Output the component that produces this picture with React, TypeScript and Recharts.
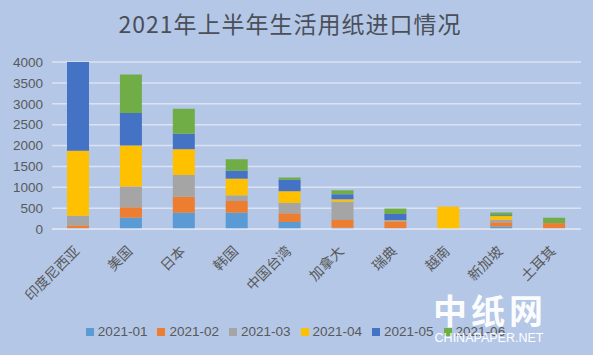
import React from 'react';
import { BarChart, Bar, XAxis, YAxis, CartesianGrid, Legend } from 'recharts';

const categories = ['印度尼西亚', '美国', '日本', '韩国', '中国台湾', '加拿大', '瑞典', '越南', '新加坡', '土耳其'];
const seriesNames = ['2021-01', '2021-02', '2021-03', '2021-04', '2021-05', '2021-06'];
const m01 = [15, 270, 390, 390, 170, 30, 20, 0, 60, 10];
const m02 = [70, 250, 385, 280, 206, 186, 160, 0, 100, 130];
const m03 = [235, 495, 520, 136, 248, 440, 20, 0, 60, 0];
const m04 = [1554, 985, 617, 400, 281, 56, 10, 536, 90, 0];
const m05 = [2126, 777, 368, 192, 272, 120, 150, 0, 20, 0];
const m06 = [0, 921, 600, 273, 56, 96, 130, 0, 65, 130];
const yTicks = [0, 500, 1000, 1500, 2000, 2500, 3000, 3500, 4000];

const colors = ['#5B9BD5', '#ED7D31', '#A5A5A5', '#FFC000', '#4472C4', '#70AD47'];
const seriesValues = [m01, m02, m03, m04, m05, m06];

const data = categories.map((name, i) => {
  const row: Record<string, any> = { name };
  seriesNames.forEach((s, k) => {
    row[s] = seriesValues[k][i];
  });
  return row;
});

const textColor = '#595959';
const cjkFont = '"Noto Sans CJK SC", "Liberation Sans", sans-serif';

const AngledTick = (props: any) => {
  const { x, y, payload } = props;
  return (
    <g transform={`translate(${x + 2},${y + 15})`}>
      <text
        textAnchor="end"
        transform="rotate(-45)"
        fill={textColor}
        fontSize={14}
        fontFamily={cjkFont}
      >
        {payload.value}
      </text>
    </g>
  );
};

export default function App() {
  return (
    <div
      style={{
        position: 'absolute',
        top: 0,
        left: 0,
        width: 593,
        height: 355,
        background: '#B4C7E7',
        fontFamily: '"Liberation Sans", "Noto Sans CJK SC", sans-serif',
        overflow: 'hidden',
      }}
    >
      <div
        style={{
          position: 'absolute',
          top: 8,
          left: 0,
          width: 580,
          textAlign: 'center',
          fontSize: 23,
          letterSpacing: 1,
          color: '#4a4f58',
          fontFamily: cjkFont,
          lineHeight: '30px',
        }}
      >
        2021年上半年生活用纸进口情况
      </div>
      <BarChart
        width={593}
        height={355}
        data={data}
        margin={{ top: 62, right: 12, left: 0, bottom: 0 }}
        barSize={22}
      >
        <CartesianGrid vertical={false} stroke="#dbe3f3" strokeWidth={1.5} />
        <XAxis
          dataKey="name"
          height={126}
          interval={0}
          tickLine={false}
          axisLine={{ stroke: '#dbe3f3', strokeWidth: 1.5 }}
          tick={<AngledTick />}
        />
        <YAxis
          width={52}
          domain={[0, 4000]}
          ticks={yTicks}
          interval={0}
          axisLine={false}
          tickLine={false}
          tickMargin={3}
          tick={{ fill: textColor, fontSize: 13.5 }}
        />
        <Legend
          verticalAlign="middle"
          align="center"
          iconType="square"
          iconSize={8}
          wrapperStyle={{ top: 324, left: 4, width: 593, fontSize: 13.5 }}
          formatter={(value: string) => <span style={{ color: textColor }}>{value}</span>}
        />
        {seriesNames.map((s, k) => (
          <Bar key={s} dataKey={s} stackId="a" fill={colors[k]} isAnimationActive={false} />
        ))}
      </BarChart>
      <div
        style={{
          position: 'absolute',
          left: 432,
          top: 290,
          width: 116,
          textAlign: 'center',
          color: '#ffffff',
          fontSize: 34,
          fontWeight: 700,
          letterSpacing: 4,
          lineHeight: '40px',
          fontFamily: cjkFont,
          opacity: 0.95,
        }}
      >
        中纸网
      </div>
      <div
        style={{
          position: 'absolute',
          left: 430,
          top: 331,
          width: 118,
          textAlign: 'center',
          color: '#ffffff',
          fontSize: 12.5,
          lineHeight: '14px',
          fontFamily: '"Liberation Sans", sans-serif',
        }}
      >
        CHINAPAPER.NET
      </div>
    </div>
  );
}
